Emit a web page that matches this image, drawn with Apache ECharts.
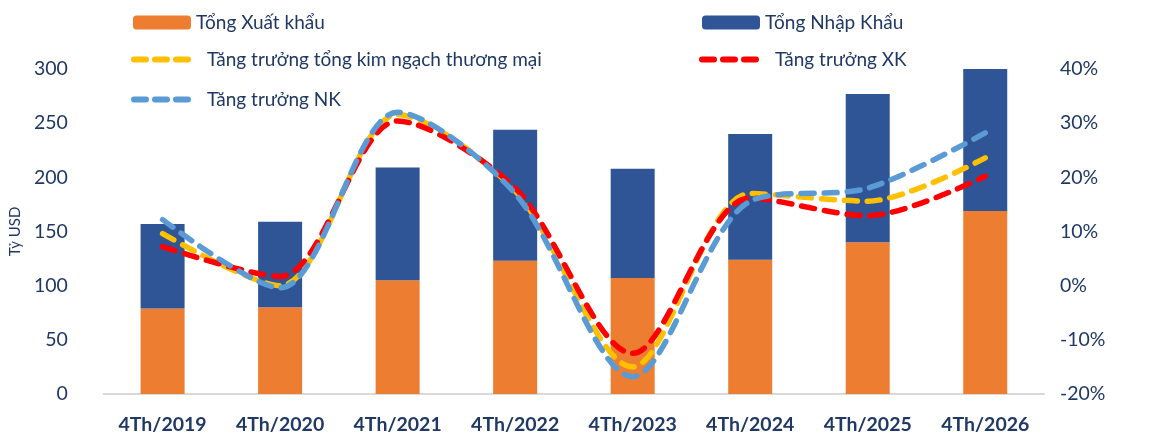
<!DOCTYPE html>
<html>
<head>
<meta charset="utf-8">
<script src="https://cdn.jsdelivr.net/npm/echarts@6/dist/echarts.min.js"></script>
<style>
html, body { margin: 0; padding: 0; background: #fff; }
#chart { width: 1176px; height: 438px; }
</style>
</head>
<body>
<div id="chart"></div>
<script>
// du lieu
const categories = ['4Th/2019', '4Th/2020', '4Th/2021', '4Th/2022', '4Th/2023', '4Th/2024', '4Th/2025', '4Th/2026'];
const xuatKhau = [79, 80, 105, 123, 107, 124, 140, 169];
const nhapKhau = [78, 79, 104, 121, 101, 116, 137, 133];
const tangTruongTong = [9.6, 0, 31.6, 17.5, -15, 17, 15.6, 23.6];
const tangTruongXK = [7.2, 1.7, 30.4, 18, -12.5, 16.2, 12.9, 20.2];
const tangTruongNK = [12.2, -0.4, 32, 17, -16.8, 15.6, 18, 28.2];

const navy = '#1F3864';
const font = 'Lato';

const dom = document.getElementById('chart');
const myChart = echarts.init(dom);

function dashLine(name, color, data) {
	return {
		name: name,
		type: 'line',
		yAxisIndex: 1,
		data: data,
		smooth: 0.3,
		symbol: 'none',
		color: color,
		lineStyle: { color: color, width: 5.5, type: [13, 10], cap: 'round' }
	};
}

function legendAt(name, left, top, isLine) {
	const leg = {
		data: [name],
		left: left,
		top: top,
		itemWidth: 58,
		itemHeight: 14,
		textStyle: { color: navy, fontSize: 19, fontFamily: font, padding: isLine ? [0, 0, 0, 10] : 0 }
	};
	if (isLine) {
		leg.itemStyle = { opacity: 0 };
		leg.lineStyle = { width: 6, type: [12, 9], cap: 'round' };
	}
	return leg;
}

const option = {
	animation: false,
	backgroundColor: '#fff',
	legend: [
		legendAt('Tổng Xuất khẩu', 128, 8, false),
		legendAt('Tổng Nhập Khẩu', 697, 8, false),
		legendAt('Tăng trưởng tổng kim ngạch thương mại', 126, 45, true),
		legendAt('Tăng trưởng XK', 694, 45, true),
		legendAt('Tăng trưởng NK', 126, 85, true)
	],
	grid: { left: 103, right: 132, top: 69, bottom: 44 },
	xAxis: {
		type: 'category',
		data: categories,
		axisTick: { show: false },
		axisLine: { lineStyle: { color: '#D9D9D9', width: 2 } },
		axisLabel: { color: navy, fontSize: 19.5, fontWeight: 'bold', fontFamily: font, margin: 21 }
	},
	yAxis: [{
		type: 'value',
		min: 0,
		max: 300,
		interval: 50,
		name: 'Tỷ USD',
		nameLocation: 'middle',
		nameGap: 67,
		nameTextStyle: { color: navy, fontSize: 15, fontFamily: font },
		splitLine: { show: false },
		axisLine: { show: false },
		axisLabel: { color: navy, fontSize: 19.5, fontFamily: font, margin: 36 }
	}, {
		type: 'value',
		min: -20,
		max: 40,
		interval: 10,
		splitLine: { show: false },
		axisLine: { show: false },
		axisLabel: { color: navy, fontSize: 19.5, fontFamily: font, margin: 16, formatter: '{value}%' }
	}],
	series: [{
		name: 'Tổng Xuất khẩu',
		type: 'bar',
		stack: 'tong',
		data: xuatKhau,
		barWidth: 44,
		itemStyle: { color: '#ED7D31' }
	}, {
		name: 'Tổng Nhập Khẩu',
		type: 'bar',
		stack: 'tong',
		data: nhapKhau,
		barWidth: 44,
		itemStyle: { color: '#2F5597' }
	},
	dashLine('Tăng trưởng tổng kim ngạch thương mại', '#FFC000', tangTruongTong),
	dashLine('Tăng trưởng XK', '#FF0000', tangTruongXK),
	dashLine('Tăng trưởng NK', '#5B9BD5', tangTruongNK)
	]
};

myChart.setOption(option);
</script>
</body>
</html>
